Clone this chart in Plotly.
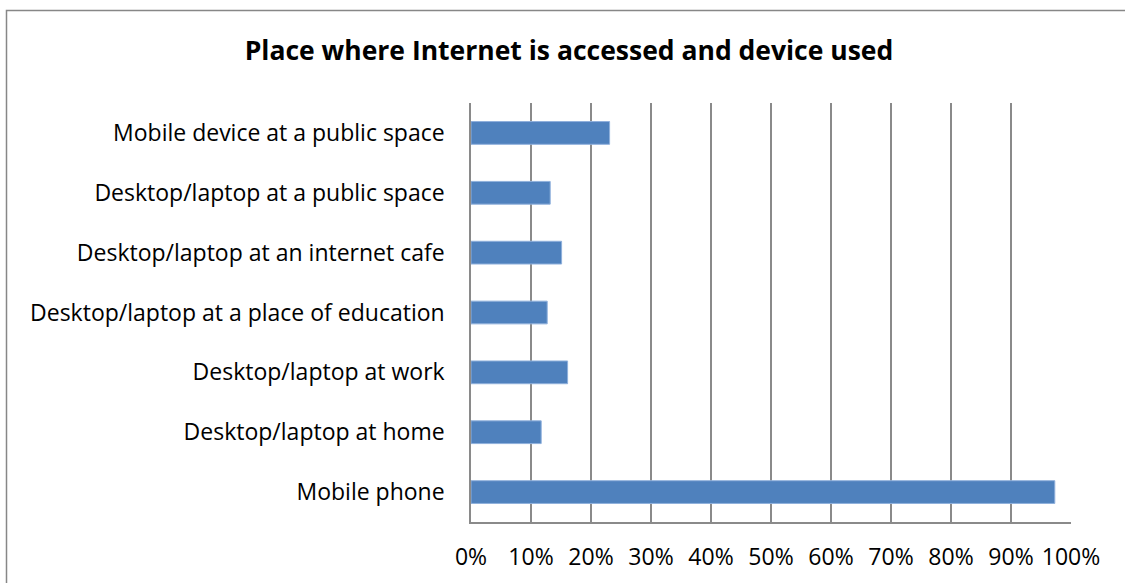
import plotly.graph_objects as go

# Survey categories (bottom to top) and share of respondents
places = [
    "Mobile phone",
    "Desktop/laptop at home",
    "Desktop/laptop at work",
    "Desktop/laptop at a place of education",
    "Desktop/laptop at an internet cafe",
    "Desktop/laptop at a public space",
    "Mobile device at a public space",
]
shares = [0.973, 0.117, 0.161, 0.127, 0.151, 0.132, 0.231]

tick_values = [i / 10 for i in range(11)]
tick_labels = [f"{i * 10}%" for i in range(11)]

W, H = 1125, 583
L, R, T, B = 471, 54, 103, 61
pw, ph = W - L - R, H - T - B

def px_x(x):
    return (x - L) / pw

def px_y(y):
    return (H - B - y) / ph

FONT = "Open Sans"
GRID = "#8a8a8a"

fig = go.Figure(
    go.Bar(
        x=shares,
        y=places,
        orientation="h",
        marker=dict(color="#4F81BD", line=dict(color="#8fb0dc", width=1)),
        width=0.38,
        hoverinfo="x+y",
    )
)

fig.update_layout(
    width=W,
    height=H,
    margin=dict(l=L, r=R, t=T, b=B, pad=0, autoexpand=False),
    paper_bgcolor="white",
    plot_bgcolor="white",
    showlegend=False,
    font=dict(family=FONT, size=23, color="#000000"),
    title=dict(
        text="<b>Place where Internet is accessed and device used</b>",
        x=px_x(569),
        xref="paper",
        xanchor="center",
        y=1 - 51 / H,
        yanchor="middle",
        font=dict(family=FONT, size=26.5, color="#000000"),
    ),
    xaxis=dict(
        range=[0, 1],
        tickvals=tick_values,
        ticktext=tick_labels,
        showgrid=True,
        gridcolor=GRID,
        gridwidth=1.5,
        showline=True,
        linecolor=GRID,
        linewidth=1.5,
        zeroline=False,
        ticks="",
        ticklabelstandoff=14,
        tickfont=dict(family=FONT, size=23),
        automargin=False,
        fixedrange=True,
    ),
    yaxis=dict(
        categoryorder="array",
        categoryarray=places,
        showgrid=False,
        showline=True,
        linecolor=GRID,
        linewidth=1.5,
        ticks="",
        ticklabelstandoff=20,
        tickfont=dict(family=FONT, size=23),
        automargin=False,
        fixedrange=True,
    ),
    shapes=[
        dict(
            type="rect",
            xref="paper",
            yref="paper",
            x0=px_x(6.5),
            x1=px_x(1140),
            y0=px_y(600),
            y1=px_y(10.5),
            line=dict(color="#878787", width=1.5),
            fillcolor="rgba(0,0,0,0)",
            layer="below",
        )
    ],
)

fig.write_html("out.html")
